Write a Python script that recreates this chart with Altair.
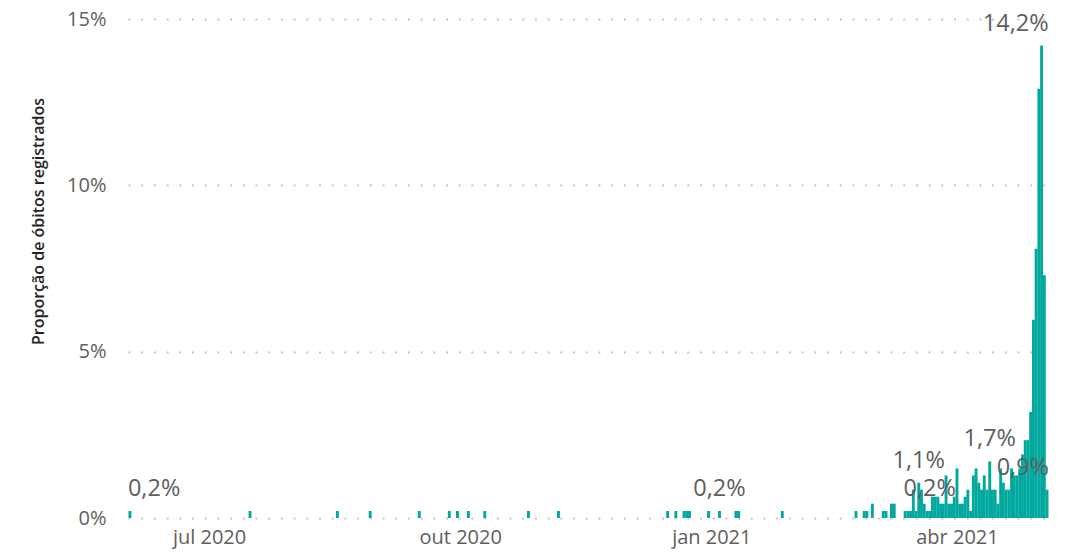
import altair as alt
import pandas as pd

TEAL = "#01A89E"

# Daily share of registered deaths (%)
dates = [
    "2020-06-02", "2020-07-16", "2020-08-17", "2020-08-29", "2020-09-16",
    "2020-09-27", "2020-09-30", "2020-10-04", "2020-10-10", "2020-10-26",
    "2020-11-06", "2020-12-16", "2020-12-19", "2020-12-22", "2020-12-23",
    "2020-12-24", "2020-12-31", "2021-01-04", "2021-01-10", "2021-01-11",
    "2021-01-27", "2021-02-23", "2021-02-26", "2021-02-27", "2021-03-01",
    "2021-03-05", "2021-03-06", "2021-03-08", "2021-03-09", "2021-03-13",
    "2021-03-14", "2021-03-15",
    "2021-03-16", "2021-03-17", "2021-03-18", "2021-03-19", "2021-03-20",
    "2021-03-21", "2021-03-22", "2021-03-23", "2021-03-24", "2021-03-25",
    "2021-03-26", "2021-03-27", "2021-03-28", "2021-03-29", "2021-03-30",
    "2021-03-31", "2021-04-01", "2021-04-02", "2021-04-03", "2021-04-04",
    "2021-04-05", "2021-04-06", "2021-04-07", "2021-04-08", "2021-04-09",
    "2021-04-10", "2021-04-11", "2021-04-12", "2021-04-13", "2021-04-14",
    "2021-04-15", "2021-04-16", "2021-04-17", "2021-04-18", "2021-04-19",
    "2021-04-20", "2021-04-21", "2021-04-22", "2021-04-23", "2021-04-24",
    "2021-04-25", "2021-04-26", "2021-04-27", "2021-04-28", "2021-04-29",
    "2021-04-30", "2021-05-01", "2021-05-02", "2021-05-03", "2021-05-04",
]
values = [
    0.21, 0.21, 0.21, 0.21, 0.21,
    0.21, 0.21, 0.21, 0.21, 0.21,
    0.21, 0.21, 0.21, 0.21, 0.21,
    0.21, 0.21, 0.21, 0.21, 0.21,
    0.21, 0.21, 0.21, 0.21, 0.43,
    0.21, 0.21, 0.43, 0.43, 0.21,
    0.21, 0.21,
    0.85, 0.21, 1.06, 0.85, 0.43,
    0.21, 0.21, 0.64, 0.64, 0.64,
    0.43, 0.43, 1.28, 0.43, 0.43,
    0.64, 1.49, 0.43, 0.43, 0.64,
    0.85, 0.21, 1.28, 1.49, 1.06,
    0.85, 1.28, 0.85, 1.70, 0.85,
    0.85, 0.43, 1.49, 1.06, 0.85,
    0.85, 1.49, 1.28, 1.28, 1.49,
    1.91, 2.34, 2.34, 3.19, 5.96,
    8.09, 12.9, 14.2, 7.3, 0.85,
]

# Data labels shown in the reference
label_dates = ["2020-06-02", "2021-01-04", "2021-03-18", "2021-03-22", "2021-04-13", "2021-05-04", "2021-05-02"]
label_values = [0.21, 0.21, 1.06, 0.21, 1.70, 0.85, 14.2]
label_texts = ["0,2%", "0,2%", "1,1%", "0,2%", "1,7%", "0,9%", "14,2%"]
label_group = ["left", "center", "center", "center", "center", "right1", "right2"]

month_names = ["jan", "fev", "mar", "abr", "mai", "jun", "jul", "ago", "set", "out", "nov", "dez"]
y_ticks = [0, 5, 10, 15]

df = pd.DataFrame({"date": dates, "pct": values})
lab = pd.DataFrame({"date": label_dates, "pct": label_values, "txt": label_texts, "grp": label_group})

FONT = "Open Sans"
month_js = "[" + ",".join("'%s'" % m for m in month_names) + "]"

x_scale = alt.Scale(
    type="utc",
    nice=False,
    padding=0,
    domain=[
        alt.DateTime(year=2020, month=6, date=1, hours=7, utc=True),
        alt.DateTime(year=2021, month=5, date=5, hours=2, utc=True),
    ],
)
y_scale = alt.Scale(domain=[0, 15], nice=False)

x_axis = alt.Axis(
    values=[
        alt.DateTime(year=2020, month=7, date=1, utc=True),
        alt.DateTime(year=2020, month=10, date=1, utc=True),
        alt.DateTime(year=2021, month=1, date=1, utc=True),
        alt.DateTime(year=2021, month=4, date=1, utc=True),
    ],
    labelExpr=month_js + "[utcmonth(datum.value)] + ' ' + utcyear(datum.value)",
    title=None,
    domain=False,
    ticks=False,
    grid=False,
    labelFont=FONT,
    labelFontSize=20,
    labelColor="#605E5C",
    labelPadding=9,
)
y_axis = alt.Axis(
    values=y_ticks,
    labelExpr="datum.value + '%'",
    title="Proporção de óbitos registrados",
    titleFont=FONT,
    titleFontSize=16,
    titleFontWeight=600,
    titleColor="#252423",
    titleAngle=-90,
    titleBaseline="alphabetic",
    titleAlign="center",
    titleX=-85,
    titleY=202,
    domain=False,
    ticks=False,
    grid=True,
    gridColor="#C8C6C4",
    gridDash=[2, 10.7],
    gridWidth=2,
    labelFont=FONT,
    labelFontSize=20,
    labelColor="#605E5C",
    labelPadding=22,
)

bars = alt.Chart(df).mark_bar(color=TEAL, width=2.9).encode(
    x=alt.X("date:T", scale=x_scale, axis=x_axis),
    y=alt.Y("pct:Q", scale=y_scale, axis=y_axis),
)

def text_layer(group, align, dx):
    return alt.Chart(lab).transform_filter(
        alt.datum.grp == group
    ).mark_text(
        align=align, baseline="alphabetic", dx=dx, dy=-15,
        font=FONT, fontSize=23.5, color="#605E5C",
    ).encode(
        x=alt.X("date:T", scale=x_scale),
        y=alt.Y("pct:Q", scale=y_scale),
        text="txt:N",
    )

chart = alt.layer(
    bars,
    text_layer("left", "left", -2),
    text_layer("center", "center", 0),
    text_layer("right1", "right", 2),
    text_layer("right2", "right", 7),
).properties(
    width=922,
    height=499,
    autosize=alt.AutoSizeParams(type="none"),
    padding={"left": 120, "top": 11, "right": 19, "bottom": 36},
).configure_view(stroke=None)

chart.save("out.html", embed_options={"renderer": "svg", "actions": False})
